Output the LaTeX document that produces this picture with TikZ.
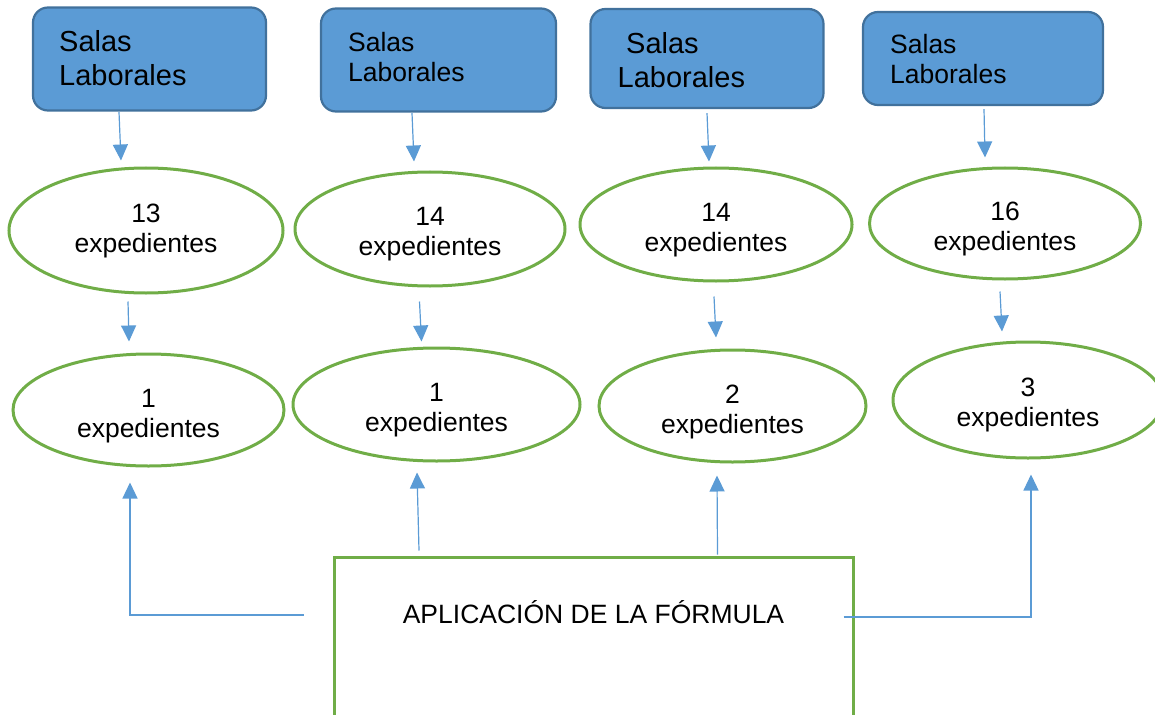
\documentclass[tikz,border=0pt]{standalone}
\usepackage{fontspec}
\setmainfont{Liberation Sans}
\usetikzlibrary{arrows.meta,calc,shapes.geometric}
\definecolor{boxfill}{HTML}{5B9BD5}
\definecolor{boxline}{HTML}{41719C}
\definecolor{grn}{HTML}{70AD47}
\definecolor{arrblue}{HTML}{5B9BD5}
\newcommand\exptext[2]{\rule{0pt}{#1pt}#2\\expedientes}
\begin{document}
\begin{tikzpicture}[x=1pt,y=-1pt,
  sala/.style={draw=boxline, fill=boxfill, line width=2.2pt, rounded corners=15pt, inner sep=0pt},
  salatxt/.style={anchor=base west, inner sep=0pt, font=\fontsize{29}{34}\selectfont},
  salatxts/.style={anchor=base west, inner sep=0pt, font=\fontsize{26.5}{30}\selectfont},
  expe/.style={ellipse, draw=grn, line width=3pt, inner sep=0pt, align=center, font=\fontsize{26.5}{30}\selectfont},
  formbox/.style={draw=grn, line width=3pt, inner sep=0pt},
  arr/.style={draw=arrblue, line width=1.2pt, -{Triangle[width=15pt,length=16pt]}}
]
\useasboundingbox (0,0) rectangle (1155,714);

% top boxes
\node[sala, minimum width=233pt, minimum height=103pt] (b1) at (149.5,59) {};
\node[salatxt] (b1a) at (59,52) {Salas};
\node[salatxt] (b1b) at (59,86) {Laborales};
\node[sala, minimum width=235pt, minimum height=103pt] (b2) at (438.5,60) {};
\node[salatxts] (b2a) at (348,52) {Salas};
\node[salatxts] (b2b) at (348,82) {Laborales};
\node[sala, minimum width=233pt, minimum height=99pt] (b3) at (707,58.5) {};
\node[salatxt] (b3a) at (626,54) {Salas};
\node[salatxt] (b3b) at (617.5,88) {Laborales};
\node[sala, minimum width=240pt, minimum height=93pt] (b4) at (983,58.5) {};
\node[salatxts] (b4a) at (890,54) {Salas};
\node[salatxts] (b4b) at (890,84) {Laborales};

% middle ellipses
\node[expe, minimum width=274pt, minimum height=125pt] (e1) at (146,230.5) {\exptext{0}{13}};
\node[expe, minimum width=270pt, minimum height=114pt] (e2) at (430,229) {\exptext{28.6}{14}};
\node[expe, minimum width=272pt, minimum height=113pt] (e3) at (716,224.5) {\exptext{28.6}{14}};
\node[expe, minimum width=271pt, minimum height=111pt] (e4) at (1005,223.5) {\exptext{28.6}{16}};

% lower ellipses
\node[expe, minimum width=271pt, minimum height=112pt] (f1) at (148.5,410) {\exptext{30.6}{1}};
\node[expe, minimum width=287pt, minimum height=113pt] (f2) at (436.5,404.5) {\exptext{28.6}{1}};
\node[expe, minimum width=267pt, minimum height=112pt] (f3) at (732.5,406) {\exptext{30.6}{2}};
\node[expe, minimum width=270pt, minimum height=116pt] (f4) at (1028,400) {\exptext{27.6}{3}};

% formula box
\node[formbox, minimum width=519pt, minimum height=190pt] (fb) at (593.5,652) {};
\node[anchor=base, inner sep=0pt, font=\fontsize{26.5}{30}\selectfont] (fbt) at ($(fb.north)+(0,68)$) {APLICACIÓN DE LA FÓRMULA};

% arrows boxes -> ellipses
\draw[arr] ($(b1.south)+(-30.5,0.5)$) -- ($(e1.north)+(-25,-6)$);
\draw[arr] ($(b2.south)+(-26.5,0.5)$) -- ($(e2.north)+(-16,-9)$);
\draw[arr] ($(b3.south)+(0,4)$) -- ($(e3.north)+(-7,-5)$);
\draw[arr] ($(b4.south)+(1,3)$) -- ($(e4.north)+(-20,-9)$);

% arrows ellipses -> ellipses
\draw[arr] ($(e1.south)+(-18,7)$) -- ($(f1.north)+(-19.5,-11)$);
\draw[arr] ($(e2.south)+(-10.5,14)$) -- ($(f2.north)+(-15,-5)$);
\draw[arr] ($(e3.south)+(-2,14)$) -- ($(f3.north)+(-16.5,-11)$);
\draw[arr] ($(e4.south)+(-5,11)$) -- ($(f4.north)+(-26,-9)$);

% arrows formula -> lower ellipses
\draw[arr] ($(fb.west)+(-29,-37)$) -| ($(f1.south)+(-18.5,15)$);
\draw[arr] ($(fb.north)+(-174.5,-5)$) -- ($(f2.south)+(-19.5,10)$);
\draw[arr] ($(fb.north)+(124,-1)$) -- ($(f3.south)+(-15.5,12)$);
\draw[arr] ($(fb.east)+(-11,-35)$) -| ($(f4.south)+(3,15)$);
\end{tikzpicture}
\end{document}
